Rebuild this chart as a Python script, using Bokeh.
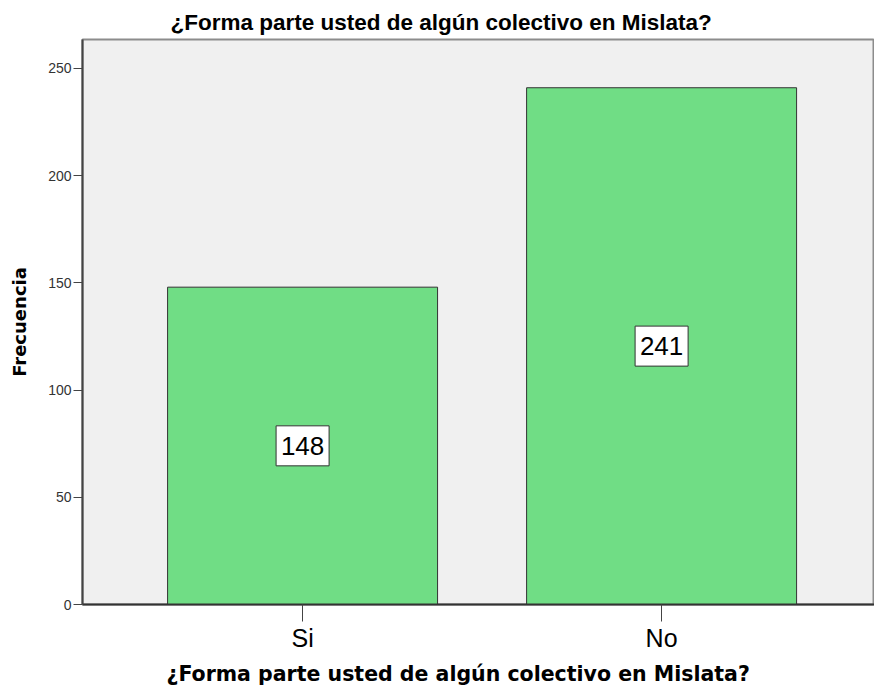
from bokeh.plotting import figure
from bokeh.models import ColumnDataSource, Range1d, FixedTicker, Title
from bokeh.core.properties import value
from bokeh.embed import file_html
from bokeh.resources import INLINE

categories = ["Si", "No"]
counts = [148, 241]
y_ticks = [0, 50, 100, 150, 200, 250]
title_text = "¿Forma parte usted de algún colectivo en Mislata?"

xs = list(range(len(categories)))
src = ColumnDataSource(dict(
    x=xs,
    top=counts,
    mid=[c / 2 for c in counts],
    lbl=[str(c) for c in counts],
))

p = figure(width=874, height=693, output_backend="svg", toolbar_location=None,
           x_range=Range1d(-0.613, 1.593), y_range=Range1d(0, 263.5))
p.min_border_left = 82
p.min_border_right = 0
p.min_border_top = 39
p.min_border_bottom = 89
p.background_fill_color = "#f0f0f0"
p.border_fill_color = "white"
p.outline_line_color = "#8c8c8c"
p.outline_line_width = 2
p.xgrid.visible = False
p.ygrid.visible = False

p.vbar(x="x", top="top", bottom=0, width=0.752, source=src,
       fill_color="#70dd85", line_color="#333333", line_width=1)

# value boxes
p.rect(x="x", y="mid", width=53, height=40, width_units="screen",
       height_units="screen", source=src, fill_color="white",
       line_color="#333333", line_width=1)
p.text(x="x", y="mid", text="lbl", source=src, text_align="center",
       text_baseline="middle", text_font=value("Liberation Sans"),
       text_font_size="26px", text_color="black")

# y axis
p.yaxis.ticker = FixedTicker(ticks=y_ticks)
p.yaxis.minor_tick_line_color = None
p.yaxis.major_tick_in = 0
p.yaxis.major_tick_out = 9
p.yaxis.major_label_text_font = "Liberation Sans"
p.yaxis.major_label_text_font_size = "14px"
p.yaxis.major_label_text_color = "#333333"
p.yaxis.major_label_standoff = 2
p.yaxis.axis_line_color = "#444444"
p.yaxis.axis_line_width = 2
p.yaxis.major_tick_line_color = "#444444"
p.yaxis.axis_label = "Frecuencia"
p.yaxis.axis_label_text_font = "DejaVu Sans"
p.yaxis.axis_label_text_font_style = "bold"
p.yaxis.axis_label_text_font_size = "18px"
p.yaxis.axis_label_text_color = "black"
p.yaxis.axis_label_standoff = 15

# x axis
p.xaxis.ticker = FixedTicker(ticks=xs)
p.xaxis.major_label_overrides = {i: c for i, c in zip(xs, categories)}
p.xaxis.minor_tick_line_color = None
p.xaxis.major_tick_in = 0
p.xaxis.major_tick_out = 17
p.xaxis.major_label_text_font = "Liberation Sans"
p.xaxis.major_label_text_font_size = "25px"
p.xaxis.major_label_text_color = "black"
p.xaxis.major_label_standoff = 2
p.xaxis.axis_line_color = "#333333"
p.xaxis.axis_line_width = 2
p.xaxis.major_tick_line_color = "#444444"

# title above
p.title.text = title_text
p.title.align = "left"
p.title.offset = 88
p.title.text_font = "Liberation Sans"
p.title.text_font_style = "bold"
p.title.text_font_size = "22.5px"
p.title.text_color = "black"
p.title.standoff = 9

# x-axis label as a title below the axis
xlab = Title(text=title_text, align="left", offset=84,
             text_font="DejaVu Sans", text_font_style="bold",
             text_font_size="20.5px", text_color="black", standoff=10)
p.add_layout(xlab, "below")

open("out.html", "w").write(file_html(p, INLINE))
